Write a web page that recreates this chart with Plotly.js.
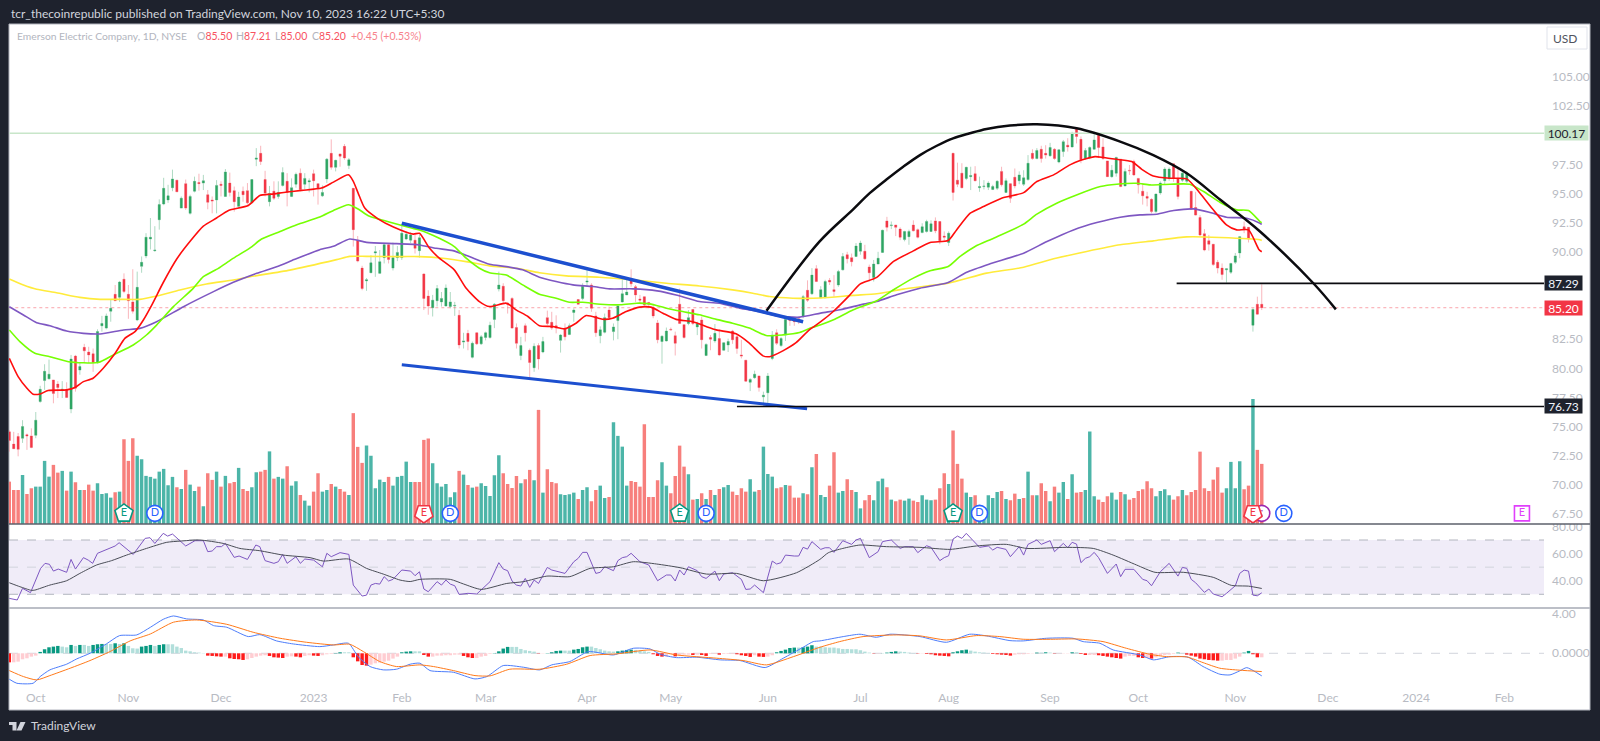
<!DOCTYPE html>
<html>
<head>
<meta charset="utf-8">
<title>Emerson Electric Company, 1D, NYSE</title>
<script src="https://cdn.plot.ly/plotly-3.0.1.min.js"></script>
<style>
  html, body { margin: 0; padding: 0; background: #1e222d; overflow: hidden; }
  #chart { width: 1600px; height: 741px; }
</style>
</head>
<body>
<div id="chart"></div>
<script>
// daily bars, oldest first
var open = [
74.55,73.5,74.15,74.0,74.3,74.2,74.25,77.15,78.95,79.1,
79.0,78.65,78.15,78.15,76.5,81.05,79.85,81.8,81.4,81.25,
80.5,83.65,83.45,84.9,86.35,86.1,87.65,86.35,85.7,84.15,
88.75,89.65,91.1,90.1,92.75,94.1,94.45,95.5,96.15,93.75,
95.85,93.3,95.2,95.95,95.9,94.9,94.45,94.45,95.8,94.75,
95.9,95.25,93.9,95.2,95.25,94.2,97.95,98.45,96.2,94.3,
95.2,94.75,95.7,96.05,94.75,95.8,96.75,95.8,96.0,96.7,
95.85,94.8,96.25,98.45,97.25,98.4,99.05,97.4,95.45,91.0,
88.6,87.5,88.2,89.9,88.15,89.5,90.6,88.6,89.5,89.5,
91.1,91.0,91.0,90.1,88.1,86.2,85.2,85.8,85.7,85.35,
85.3,85.35,84.55,82.25,83.0,80.95,83.05,82.1,82.65,82.65,
84.2,86.8,87.05,85.6,86.0,83.5,81.1,83.65,81.55,80.05,
81.95,81.4,84.35,83.95,83.65,82.4,83.45,82.9,84.8,85.9,
86.0,87.4,87.15,84.5,82.8,83.1,85.0,83.15,84.1,85.7,
86.3,87.7,87.0,85.95,86.15,85.65,85.2,83.9,82.3,82.35,
83.35,82.8,85.5,83.75,83.85,85.05,83.55,84.15,81.1,82.65,
82.35,82.55,81.55,82.0,83.2,82.7,81.15,80.7,78.8,79.2,
79.35,77.55,77.9,80.85,83.05,81.95,82.85,84.25,84.15,84.25,
84.45,86.7,86.4,88.55,86.05,86.05,87.55,86.75,87.15,88.45,
89.75,89.5,89.6,90.05,90.05,88.7,87.8,88.95,89.95,92.65,
92.25,92.3,91.95,91.05,91.3,92.3,91.9,91.65,91.75,91.75,
92.65,92.6,91.35,90.8,98.45,96.15,96.75,96.3,96.45,96.7,
95.5,95.6,95.55,95.35,95.45,96.9,95.1,95.85,96.4,96.1,
95.8,96.2,98.45,98.0,98.8,98.45,98.25,98.8,97.7,98.6,
99.15,99.0,100.6,99.65,98.0,98.1,98.8,100.0,99.0,97.8,
96.45,96.75,97.95,95.65,97.0,97.75,96.3,95.2,94.75,94.5,
93.45,95.05,96.1,96.3,97.55,96.3,96.15,96.05,95.2,93.8,
92.95,91.55,90.95,90.65,89.1,88.6,88.45,88.25,89.1,89.9,
92.15,92.1,83.7,85.5,85.5];
var high = [
74.7,74.55,74.45,75.55,74.4,74.85,76.25,78.5,80.35,80.75,
79.0,78.9,78.9,78.8,81.15,81.15,80.5,82.1,81.85,81.7,
83.35,84.5,84.7,85.9,87.15,87.5,88.15,87.15,88.5,88.3,
89.6,91.6,92.9,92.2,94.5,96.35,95.75,97.05,96.15,94.75,
96.2,94.9,96.45,96.7,96.6,95.3,94.75,96.15,96.05,97.1,
96.8,95.6,95.15,95.6,95.9,96.2,98.9,99.1,96.95,95.65,
96.05,96.05,97.25,96.75,96.3,96.8,97.15,96.75,96.3,97.05,
95.85,95.7,98.05,99.65,97.9,98.4,99.25,98.05,95.45,91.35,
88.8,87.75,89.7,90.5,90.15,90.75,90.75,90.8,90.5,92.4,
91.75,91.7,91.6,91.45,88.15,86.7,86.3,87.15,86.55,87.2,
86.55,85.7,85.0,83.05,83.3,82.3,83.05,82.85,83.15,84.0,
85.6,88.3,87.3,85.7,86.1,83.85,82.7,83.85,81.7,82.15,
82.15,82.7,84.95,84.85,84.55,82.95,83.85,83.85,85.15,85.95,
87.3,88.5,87.3,84.85,83.6,84.7,85.3,83.85,85.5,87.7,
87.7,88.5,87.15,86.3,86.15,85.7,85.45,84.15,82.85,83.5,
83.5,83.15,86.85,83.75,85.0,85.05,84.0,84.45,82.15,82.85,
83.8,83.35,82.2,82.55,83.3,82.85,82.45,80.7,79.15,79.8,
79.35,78.0,79.6,83.2,83.35,82.7,84.3,84.45,84.15,84.25,
86.3,87.55,88.6,88.85,87.05,87.6,87.75,88.0,88.45,89.9,
90.0,89.85,90.75,90.95,90.6,88.9,89.3,90.0,91.9,93.0,
92.6,92.3,92.1,91.8,91.9,92.7,92.0,92.45,92.75,92.7,
92.95,92.6,91.75,91.75,98.5,97.65,97.6,97.3,97.3,97.35,
96.45,96.15,96.05,95.75,96.15,97.3,96.3,95.9,97.15,96.9,
97.0,98.3,98.8,98.9,99.1,99.15,99.35,98.9,98.75,99.6,
99.75,100.3,100.6,99.9,98.9,99.05,100.3,100.15,99.75,97.8,
97.45,98.15,97.95,97.15,97.45,97.9,96.3,95.9,95.15,94.6,
95.0,96.05,97.25,97.25,97.55,97.15,97.0,96.9,95.2,95.15,
93.15,91.95,91.45,90.65,89.3,89.0,88.6,89.05,89.9,91.35,
92.6,92.1,85.15,86.15,87.21];
var low = [
72.85,73.1,72.45,73.6,73.0,73.15,74.0,77.05,78.15,79.05,
77.0,77.45,77.45,77.45,76.15,78.0,79.45,80.45,80.45,79.7,
80.4,83.15,83.35,84.0,85.8,85.7,86.45,84.25,84.7,84.05,
88.2,89.45,90.2,90.0,91.9,94.0,94.2,95.2,95.15,93.75,
93.6,93.2,95.1,95.25,95.3,93.65,93.3,93.3,94.75,94.75,
94.75,93.45,93.75,94.3,94.05,94.2,97.35,97.45,94.75,93.9,
94.45,94.55,95.6,93.9,94.7,95.5,95.2,95.35,95.1,94.75,
94.05,94.7,95.9,97.05,96.9,97.3,97.9,97.1,90.45,89.1,
86.7,86.65,88.2,87.85,88.1,89.0,89.0,88.4,89.2,89.3,
91.0,90.75,89.85,89.5,85.0,84.6,84.45,85.3,85.3,85.3,
85.15,84.5,81.7,81.7,81.55,80.85,82.0,82.0,82.4,82.55,
83.45,86.6,85.55,84.7,83.4,81.7,80.7,82.3,79.0,79.7,
79.9,81.3,83.7,83.3,83.0,81.35,82.4,82.85,84.0,85.5,
85.85,87.0,84.85,82.7,82.15,83.0,84.15,82.4,82.5,85.65,
86.3,87.0,85.7,85.55,85.3,85.15,84.3,82.15,80.4,82.3,
83.25,81.1,83.85,82.55,83.7,83.7,82.85,81.7,81.05,81.55,
82.2,81.05,81.55,81.4,82.1,81.25,80.85,78.85,78.05,79.1,
78.0,77.0,77.0,80.7,82.0,81.85,82.35,83.65,83.65,83.8,
84.3,85.7,86.3,87.4,86.05,86.05,87.15,86.15,87.0,88.4,
89.0,88.75,89.55,89.75,89.3,87.45,87.45,88.95,89.9,91.75,
91.95,91.35,91.0,90.9,90.6,91.75,91.15,91.6,91.65,91.7,
91.6,90.65,90.9,90.5,94.4,95.55,95.45,96.15,95.3,96.05,
95.15,95.35,95.3,95.3,95.3,95.6,95.1,94.2,95.45,95.8,
95.65,96.1,97.9,97.95,97.65,98.0,98.15,97.9,97.6,98.15,
98.6,98.95,99.3,97.6,97.9,97.95,98.8,98.05,97.9,96.45,
96.35,96.45,95.55,95.65,96.6,96.5,95.0,94.05,93.9,93.3,
93.35,94.9,95.75,96.1,96.0,94.5,96.0,95.9,93.6,93.1,
91.35,90.05,90.1,88.8,88.15,87.6,87.35,88.1,88.95,89.45,
91.6,90.8,83.15,84.65,85.0];
var close = [
73.8,73.1,73.05,75.0,74.2,73.2,75.55,78.2,79.75,79.5,
77.85,78.35,78.2,77.5,80.8,78.3,80.15,81.5,81.15,80.5,
83.15,83.85,84.5,85.15,85.8,87.4,86.6,85.8,84.9,86.95,
89.1,91.25,91.25,90.15,94.05,95.45,94.8,96.25,95.15,94.6,
93.75,94.75,96.05,95.85,96.1,94.25,94.35,95.7,95.7,96.85,
95.1,94.3,94.7,94.9,94.2,96.2,98.05,97.75,95.05,95.0,
94.6,95.1,96.8,95.1,95.5,96.65,95.35,96.3,96.1,96.1,
95.45,95.1,97.95,97.25,97.85,98.2,98.05,97.9,91.9,89.2,
86.85,87.6,89.05,90.0,89.15,90.6,89.35,89.5,89.95,91.6,
91.5,91.45,90.3,91.2,86.0,85.35,85.85,86.85,86.0,86.9,
85.7,85.4,82.0,82.35,82.3,82.15,82.1,82.7,83.05,83.7,
85.5,87.15,85.8,85.5,83.45,82.15,81.95,83.05,80.5,81.9,
80.8,82.3,83.85,83.45,83.45,82.85,82.7,83.65,85.0,85.5,
87.05,87.5,85.15,83.05,83.3,84.35,84.35,83.55,85.35,86.4,
86.55,87.25,86.3,85.85,85.45,85.5,84.5,82.45,82.75,83.2,
83.3,82.15,83.85,82.65,84.35,83.85,83.85,82.45,82.05,82.5,
83.0,81.15,82.2,82.3,82.45,81.7,81.05,78.9,79.05,79.5,
78.35,77.7,79.35,82.85,82.15,82.55,84.2,84.1,84.0,84.0,
86.15,85.85,88.0,87.45,86.75,87.45,87.4,86.6,88.3,89.6,
89.4,89.15,90.5,90.75,89.4,88.2,88.95,89.45,91.85,92.1,
92.3,92.1,91.25,91.75,91.75,91.8,91.25,92.15,92.6,92.4,
91.8,90.95,91.25,91.6,95.1,95.8,95.5,97.25,96.55,96.1,
95.6,95.65,95.9,95.6,96.05,95.75,96.1,94.6,95.65,96.6,
96.35,97.6,98.0,98.7,98.0,98.3,98.95,98.0,98.75,99.45,
99.0,100.1,99.9,97.9,98.7,98.95,99.6,98.95,98.0,96.45,
97.0,98.1,95.6,96.9,96.95,96.6,95.75,94.8,94.6,93.45,
94.95,95.9,97.1,97.1,96.3,94.75,96.75,96.75,93.65,93.15,
91.45,90.15,90.65,88.9,88.6,88.05,88.55,89.0,89.65,91.3,
91.95,91.1,85.05,84.65,85.2];

// volume in millions, and g/r for each volume bar
var volume = [
3.39,2.72,2.72,3.92,2.40,2.86,2.99,2.99,5.05,3.79,
4.73,4.11,4.25,2.67,4.19,3.34,2.72,2.72,3.15,2.67,
3.26,2.40,2.46,2.11,2.54,2.59,6.78,5.05,6.86,5.46,
5.18,3.85,3.77,3.63,4.19,4.41,3.10,3.77,2.94,2.80,
4.33,3.15,2.64,2.99,1.42,4.06,3.53,4.19,2.99,3.85,
3.26,3.36,4.49,2.80,2.64,2.94,4.14,4.19,4.33,5.81,
3.63,3.77,3.63,4.62,3.07,3.42,2.32,1.87,1.47,2.59,
4.06,2.59,2.72,3.20,2.99,2.80,2.59,2.32,8.87,6.17,
4.89,6.28,5.46,2.86,3.55,3.36,3.77,3.07,3.77,3.85,
4.99,3.36,3.36,3.36,6.73,6.84,4.86,3.26,2.99,3.20,
2.14,2.54,4.25,3.95,3.12,2.91,2.99,3.26,3.04,2.24,
3.90,5.50,4.06,3.20,2.88,3.84,3.26,3.58,4.33,3.50,
9.13,2.51,4.38,3.36,3.26,2.38,2.32,2.38,2.51,2.00,
2.72,2.94,1.82,2.72,3.07,2.08,2.16,8.14,7.05,6.19,
3.07,3.44,3.36,2.99,7.98,2.16,2.16,3.50,4.94,3.07,
2.46,3.84,6.27,4.59,3.98,1.95,2.00,2.46,2.00,2.72,
2.32,2.80,2.94,3.12,2.59,2.32,2.86,2.59,3.58,2.59,
2.72,6.19,4.00,3.79,2.86,2.94,3.12,3.07,2.11,2.11,
2.46,2.38,4.54,5.60,2.32,2.16,3.07,5.74,2.51,2.64,
3.58,2.72,2.56,1.25,1.90,2.32,1.90,3.42,3.63,2.94,
1.95,1.82,1.95,1.87,2.03,1.87,1.76,2.30,1.95,1.90,
1.95,2.86,4.06,3.20,7.48,4.81,3.63,2.51,2.16,2.30,
1.30,1.10,2.30,2.08,2.56,2.64,2.00,1.90,2.43,2.00,
2.08,4.19,2.30,2.30,3.26,2.64,1.82,2.99,2.51,3.36,
2.00,3.98,2.51,2.56,2.72,7.40,2.22,1.95,1.76,2.22,
2.51,1.95,2.56,2.38,1.95,2.08,2.64,2.78,3.42,2.86,
2.22,2.64,2.78,2.30,1.95,2.22,2.72,2.30,2.56,2.72,
5.79,2.86,2.64,3.55,4.54,2.51,2.86,4.97,2.86,5.02,
2.78,3.07,10.0,5.93,4.81];
var volumeDir = ("rrrgrrgggg" + "rrgrgrgrrr" + "ggggrgrrrg" + "ggggggggrg" + "rggrgrrgrg" +
  "rrgrrggrrg" + "rggrggrggr" + "rggrgrrgrr" + "rgggggrggg" + "ggrrrrgggg" +
  "ggrgrgrggg" + "ggrrrrgrrg" + "rgrrrggggr" + "ggrrggrggg" + "grrrrrrrgg" +
  "rrrrgrgrgr" + "grggrrrrgg" + "rgggrrgrrr" + "grgrggrrgg" + "rrggrrgggr" +
  "grrggrrggg" + "rrrgrrrggr" + "gggggrgrrg" + "rgrgrrgrgg" + "rgrrgggrrr" +
  "ggrgrrrrrr" + "ggggrrgrrr" + "rrrrrrgggg" + "rrgrr").split("");

// moving averages, read at the bends of each line (bar number, price)
var ma20X = [0,2,4,5.4,7,8.8,13,15,16.8,19,21.3,24,26.2,28.5,30.4,32.3,35,38,41,44,47,49.7,54.2,56.8,59.5,62.9,66.3,70.8,73.5,76.9,78,79.1,80.6,83.7,87.1,91.6,93,95.3,97.5,100.9,103.6,106.6,108.9,112.7,115,117.6,120.2,123.2,125.9,128.5,130.8,134.8,136.8,139.9,142.9,145.5,148.2,151.2,155,158,160.3,164.8,167.8,170.9,172.4,175.4,178.4,181.4,184,186.9,190.3,192.9,196.7,200.5,205,208.8,212.9,214.8,217.9,220.9,225,230,233,236.8,240.5,242.8,246.2,248.1,251.1,254.5,256.8,259.4,263.2,267,270,273,276,278.3,281,283.4,284];
var ma20Y = [80.86,79.29,78.29,77.78,77.8,78.1,78.15,78.38,78.86,79.15,80,81.29,82.57,83.15,84.15,85.43,87.43,89.4,90.9,92.2,92.9,93.55,93.98,94.84,94.95,95.13,95.27,95.47,95.98,96.61,96.04,95.04,93.75,92.81,92.13,91.52,91.59,90.3,89.45,88.45,86.87,85.73,85.3,85.59,85.0,84.45,83.65,83.59,83.39,83.87,84.53,84.2,84.3,84.87,85.25,85.25,84.73,84.2,84,83.59,83.3,82.96,82.16,81.07,81.0,81.5,82.2,83.3,84.0,84.9,86.17,87.23,87.8,89.17,90.08,90.8,90.97,91.88,93.31,93.88,94.6,95.08,96.03,96.6,97.46,97.83,98.17,98.1,97.94,97.74,97.08,96.51,96.31,96.26,95.03,93.6,92.31,91.88,91.88,90.17,90.0];
var ma50X = [0,2.4,5.8,9.2,13.4,20.2,23.6,28.1,31.1,33.4,37.2,41.7,44,47.4,50.4,54.6,57.2,61.4,65.2,70.4,73.5,76.9,79.1,81.4,83.7,87.8,91.2,93,97.5,100.9,103.6,106.6,108.9,112.7,116.4,120.2,124,127,130,134,138.6,142.3,145.2,149,152.7,156.5,160.3,164,167.8,171.6,175.4,179.2,182,184,186.9,191.4,196.7,200.5,205,208.8,212.9,215.6,219,223.2,230,233,237.5,242,247.4,251.1,255.7,258.7,263.2,267.7,270.8,274.6,278.3,281,283.6,284];
var ma50Y = [83.29,82.29,81.29,81,80.57,80.5,81.15,82,82.86,83.71,85.29,86.86,87.86,88.58,89.35,90.33,91.1,91.75,92.33,92.98,93.55,94.04,93.67,93.1,92.81,92.38,92.04,91.87,91.16,90.45,89.45,88.59,88.2,88,87.16,86.36,86.02,85.67,85.67,85.5,85.45,85.59,85.53,85.16,84.87,84.59,84.2,83.87,83.45,82.82,82.87,83.07,83.5,83.74,84.17,85.03,85.8,86.74,87.74,88.37,88.74,89.6,90.46,91.17,92.37,93.23,94.17,94.88,95.6,95.8,95.88,95.74,95.8,95.8,95.17,94.23,93.6,93.54,92.6,92.5];
var ma100X = [0,3.2,6.2,9.2,13,16.8,20.6,25.9,29.6,33.4,39.5,46.3,50.8,56.1,60.6,64.6,70.4,73.5,77.2,81,87.8,93,96.8,100.6,104.3,108.9,112.7,116.4,120.2,124,127.8,132.3,136.1,141.4,146.9,151.2,156.5,161,165.6,170.1,173.9,179.2,184,188.4,193.7,196.7,201.2,206.5,212.9,217.1,222.4,230,235.3,241.3,246.6,251.9,256.4,260.2,264,268.5,272.3,276,280.6,283.6,284];
var ma100Y = [85.29,84.58,83.92,83.66,83.2,83,82.95,83.29,83.43,84,85.29,86.58,87.38,88.15,88.72,89.33,90.18,90.47,91.1,90.81,90.7,90.59,90.3,90.1,89.59,88.93,88.73,88.45,87.82,87.45,87.16,87.02,86.82,86.82,86.65,86.3,85.73,85.59,85.16,84.87,84.5,84.39,84.74,85.03,85.51,85.74,86.31,86.88,87.37,88.25,88.97,89.88,90.88,91.88,92.51,92.97,93.17,93.23,93.54,93.68,93.37,92.97,92.88,92.45,92.35];
var ma200X = [0,3.2,6.2,10.7,16,20.6,25.1,29.6,33.4,38.7,44.7,50.8,54.6,63.6,74.2,77.2,81,89,93,98.3,103.6,108.9,115,120.2,126.3,133.8,141.4,149,156.5,164,168.6,172.4,177.7,184,191.4,196.7,202.7,212.9,221.6,230,236.8,244.3,251.9,259.4,267,274.6,283.6,284];
var ma200Y = [87.66,87.15,86.78,86.49,86.09,85.92,85.92,85.92,86.2,86.72,87.23,87.58,87.86,88.43,89.33,89.61,89.61,89.59,89.59,89.45,89.16,88.79,88.59,88.2,87.93,87.82,87.59,87.3,87.07,86.73,86.45,86.16,86.02,86.03,86.26,86.4,86.8,87.31,88.17,88.68,89.4,90.03,90.6,90.94,91.28,91.23,91.03,90.97];

// drawn objects on the price pane
var arcX = [171.7,183.7,191.4,195.1,198.9,202.7,206.5,210.2,214,217.8,221.6,226.9,233,242,251.9,259.4,267,274.6,283.6,295.7,300.8];
var arcY = [84.94,90.87,93.66,95.03,96.2,97.3,98.3,99.08,99.74,100.17,100.54,100.83,100.94,100.6,99.46,98.3,96.74,94.46,91.74,87.3,85.06];
var wedgeTopX = [89,180], wedgeTopY = [92.45,84.0];
var wedgeLowX = [89,180.9], wedgeLowY = [80.3,76.53];
var lastBar = 348;
var resistX = [264.7,lastBar], resistY = [87.29,87.29];
var supportX = [165,lastBar], supportY = [76.73,76.73];
var highLineX = [0,lastBar], highLineY = [100.17,100.17];
var lastLineX = [0,lastBar], lastLineY = [85.2,85.2];

// RSI line and its average
var rsiX = [0,1.8,3,4.8,7.1,8.1,9.1,10,11.1,13,14,15,16.8,17.9,18.9,20,24,24.9,28.1,30.8,31.9,33,34.9,35.9,37,40,42.1,44,45,46,47,48.1,49,51,52.1,54,55.9,56.8,58,60,61,62,63,65,66,67,69,71,72,73,75,77,78,80,81,82,83,84,85,86,87,89,91,92,93,94,95,97,98,99,100,101,102,104,106,109,111,112,113,114,115,116,117,118,119,120,122,123,126,128,129,130,131,133,134,135,137,138,139,140,141,143,145,147,149,150,151,152,153,154,156,157,158,160,161,162,164,166,167,168,169,171,173,174,175,176,178,179,180,181,182,184,185,186,187,189,191,192,193,195,197,198,199,200,202,203,205,206,208,209,211,212,213,214,215,216,217,220,222,223,224,226,227,229,230,231,233,234,236,237,239,240,241,242,243,244,245,246,247,249,251,252,253,255,257,258,259,261,263,265,266,267,268,269,271,272,273,275,276,278,279,280,281,282,283,284];
var rsiY = [27,25.8,34.4,31.2,49.1,52.8,52.1,47.1,48.6,46.2,55.7,48.6,57,55.2,52.8,60.2,65.6,68,59.4,71.2,71.7,67.5,74.9,72.9,74.4,65.6,69.5,69.5,61.4,61.9,65.1,65.1,67.5,57.2,58.2,55.7,66.3,65.1,54.8,52.8,54,59.4,52.8,57.7,52.8,56,55.2,50.3,60.2,57.7,60.7,59.4,36.8,28.7,29.4,36.8,38,37.5,43,39.8,41,47.9,47.1,43.7,46.6,33.9,31.9,39.3,36.8,40.5,37.5,36.3,29.9,30.7,30.2,39.3,53.3,48.6,47.4,39.8,36.8,36.1,41.7,35.1,40.5,38,49.8,47.9,45.4,54,56.5,60.9,60.9,45.4,46.2,50.3,47.4,54.8,57,57.7,60.2,54,51.6,40,44.2,44.2,39.8,47.9,44.2,50.3,47.4,43,41.7,47.1,40,44.9,45.9,41,33.6,33.9,36.8,31.2,54.5,52.3,53.3,58.9,58.2,58.2,64.6,63.3,68.8,63.1,64.3,64.3,60.9,69.5,66.8,70,71.2,57,61.4,68.8,69.5,70,63.8,65.1,65.1,60.7,65.8,64.6,54.8,57,58.4,70.7,72.9,71.2,74.9,64.6,65.6,62.6,64.6,63.1,57.7,65.1,58.9,66.8,70,66.8,69.5,61.4,67.5,64.3,68.3,67,53.3,56.5,57.7,60.9,57,45.4,52.3,43,48.4,48.4,41,40,36.3,46.6,52.8,43.4,49.8,49.1,41,38.5,31.4,33.9,30.2,28.2,30.7,36.3,45.4,47.8,47.1,29.4,28.9,31.1];
var rsiMaX = [0,2.4,5,5.8,9.2,13,16,19.8,23.2,26.6,31.1,35.7,38.7,43.2,48.5,52.3,56.8,62.1,68.2,71.2,76.9,81,84.8,88.6,90.9,93.1,100,103,107,112.8,116.6,121.9,127.1,131.7,137,141.5,146.8,152.1,158.1,164.9,171,178.5,183.8,185.7,189,192.9,198.9,206.5,213.3,219.3,226.1,230.7,239.7,245.8,250.3,255.6,259.8,266.2,273,277.1,281,284];
var rsiMaY = [38.5,35.6,32.9,33.1,36.8,40,45.4,51.6,54.8,58.9,63.8,68.3,69.2,70,67.5,63.8,62.1,58.9,57,54.5,56,49.1,44.9,40.5,39.4,41,41,37.6,33.6,38,39.3,43.4,43,49.1,50.3,54,52.3,49.6,44.9,45.4,40,45.9,55.7,60.6,63.8,66.3,65.1,64.6,63.1,65.6,66.8,63.8,64.6,63.8,58.9,51.6,46.2,46.2,42.5,36.6,36,34.3];

// MACD, signal and histogram
var macdX = [0,1.7,5.4,7,9.2,13,15.3,18.3,22,25,28.9,32,34.9,37.2,40.2,44,46.3,49.3,54.2,56.8,60.6,64.4,70.4,73.5,76.9,79.1,81.8,84.8,87.8,90.9,93.1,95.4,100.7,105.6,108.3,112,116.6,120.3,123,127.1,131.3,137,141.5,145.3,147.6,151.3,155.9,161.2,165.7,171.4,175.5,180,182.3,183.8,189.1,192.9,196.6,199.7,206.5,212.5,217.8,221.6,226.9,229.9,235.2,241.2,243.5,247.3,250.3,256.4,259.4,263.2,267.3,270.7,274.5,276.8,279,280.6,284];
var macdY = [-2.64,-3.05,-3.05,-2.37,-1.69,-1.11,-0.57,0,0.95,1.8,1.87,2.65,3.46,3.8,3.5,3.39,2.82,2.65,1.7,1.9,1.26,0.95,0.68,0.85,1.02,-0.34,-1.35,-1.69,-1.62,-1.11,-1.01,-1.76,-1.93,-2.61,-2.37,-1.25,-1.42,-1.69,-1.18,-0.84,0.17,-0.17,0.51,0.44,-0.1,-0.44,-0.4,-0.67,-0.74,-1.45,-0.5,0.61,1.19,1.26,1.7,1.94,1.63,1.94,1.7,1.12,1.94,1.77,1.29,1.26,1.53,1.53,1.19,1.02,0.34,-0.17,-0.67,-0.34,-0.4,-1.35,-2.13,-2.2,-1.79,-1.46,-2.3];
var signalX = [0,3.2,6.2,9.2,13.8,18.3,22.8,27.4,32,37.2,42.5,49.3,55.3,61.4,67.4,73.5,77.2,80.3,84,87.8,93.1,96.2,100.7,105.6,109,113.5,120.3,126.4,131.7,137.7,145.3,151.3,160.4,166.4,171.7,177.8,183.8,188.3,193.6,201.2,206.5,212.5,219.3,224.6,229.9,236.7,242,248,253.3,258.6,262.4,267,270.7,274.5,279,284];
var signalY = [-1.76,-2.37,-2.71,-2.27,-1.52,-0.74,0.17,1.26,1.97,3.16,3.39,2.95,2.14,1.53,1.12,0.85,0.92,0.17,-0.84,-1.35,-1.18,-1.35,-1.76,-2.27,-2.3,-1.62,-1.62,-1.11,-0.23,-0.06,0.34,-0.17,-0.5,-0.74,-1.18,-0.34,0.61,1.19,1.7,1.87,1.77,1.36,1.8,1.7,1.43,1.43,1.46,1.19,0.51,-0.1,-0.34,-0.37,-0.95,-1.52,-1.72,-1.86];
var hist = [
-.92,-.92,-.85,-.61,-.51,-.34,-.24,.14,.41,.61,
.68,.75,.68,.61,.85,.75,.85,.85,.75,.85,
.92,.95,.95,.95,1.02,.95,1.02,.75,.51,.48,
.68,.75,.85,.75,.85,.92,.92,.92,.68,.54,
.27,.2,.1,.07,.03,-.24,-.27,-.31,-.34,-.34,
-.51,-.58,-.61,-.68,-.61,-.48,-.34,-.24,-.2,-.27,
-.41,-.44,-.48,-.34,-.31,-.34,-.41,-.27,-.2,-.24,
-.27,-.2,-.1,-.07,.03,.1,.1,.1,-.41,-.82,
-1.19,-1.26,-1.16,-1.02,-.95,-.85,-.75,-.54,-.34,.1,
.17,.2,.2,.2,-.17,-.34,-.34,-.24,-.24,-.2,
-.2,-.14,-.14,-.27,-.41,-.48,-.48,-.34,-.27,-.07,
.03,.2,.48,.65,.65,.65,.44,.31,.24,.17,
-.03,-.03,.03,.1,.24,.27,.27,.27,.37,.44,
.61,.68,.68,.54,.41,.27,.2,.17,.2,.27,
.34,.37,.34,.27,.2,.14,-.1,-.27,-.34,-.34,
-.1,-.31,-.2,-.14,-.14,-.17,-.14,-.17,-.27,-.07,
-.07,-.14,-.07,-.07,-.07,-.1,-.2,-.27,-.37,-.2,
-.34,-.37,-.34,-.2,.1,.24,.37,.54,.58,.58,
.61,.68,.82,.68,.68,.61,.58,.58,.51,.44,
.44,.41,.41,.31,.17,.07,-.03,-.03,.01,.07,
.14,.2,.17,.14,.07,.03,-.03,-.03,-.07,-.1,
-.2,-.24,-.27,-.31,.1,.2,.31,.37,.27,.17,
.1,.07,.03,-.07,-.1,-.14,-.17,-.24,-.14,-.1,
-.1,-.07,-.03,.07,.07,.1,.07,-.03,-.03,-.03,
-.03,.1,.1,-.07,-.17,-.17,-.17,-.2,-.27,-.34,
-.41,-.48,-.54,-.34,-.27,-.27,-.41,-.48,-.48,-.54,
-.41,-.27,-.17,-.14,-.07,.07,.03,-.14,-.24,-.34,
-.54,-.61,-.68,-.71,-.75,-.75,-.68,-.68,-.54,-.34,
.07,.24,-.1,-.41,-.41];

// axis labels
var priceTicks = [105,102.5,97.5,95,92.5,90,82.5,80,77.5,75,72.5,70,67.5];
var priceLabels = ["105.00","102.50","97.50","95.00","92.50","90.00","82.50","80.00","77.50","75.00","72.50","70.00","67.50"];
var rsiTicks = [80,60,40], rsiLabels = ["80.00","60.00","40.00"];
var macdTicks = [4,0], macdLabels = ["4.00","0.0000"];
var monthTicks = [6,27,48,69,89,108,131,150,172,193,213,236,256,278,299,319,339];
var monthLabels = ["Oct","Nov","Dec","2023","Feb","Mar","Apr","May","Jun","Jul","Aug","Sep","Oct","Nov","Dec","2024","Feb"];

// earnings and dividend flags along the bottom of the price pane
var flagY = 67.55;
var earnGreenX = [26,152,214], earnRedX = [94,282], earnNextX = [343];
var divX = [33,100,158,220,289], splitX = [284];

var W = 1600, H = 741;
var font = "Lato, 'Liberation Sans', sans-serif";
var axisGrey = "#b8bbc3";
function fx(px) { return px / W; }
function fy(px) { return 1 - px / H; }

var bars = close.map(function (c, i) { return i; });
// body only: high and low pinned to the body so no wick shows
var bodyTop = close.map(function (c, i) { return Math.max(c, open[i]); });
var bodyLow = close.map(function (c, i) { return Math.min(c, open[i]); });

var histColors = hist.map(function (h, i) {
  var prev = i ? hist[i - 1] : 0;
  if (h >= 0) return h > prev ? "#089981" : "#b2dfdb";
  return h < prev ? "#ff1a1a" : "#ffcdd2";
});

function line(x, y, color, width, axis, extra) {
  var lineOpts = { color: color, width: width };
  for (var k in (extra || {})) lineOpts[k] = extra[k];
  return { type: "scatter", mode: "lines", x: x, y: y, line: lineOpts, yaxis: axis, xaxis: "x", hoverinfo: "skip", showlegend: false };
}

function flags(x, symbol, color, label, size, angle) {
  return {
    type: "scatter", mode: "markers+text", x: x, y: x.map(function () { return flagY; }),
    text: x.map(function () { return label; }), textposition: "middle center",
    textfont: { family: font, size: 11, color: color },
    marker: { symbol: symbol, size: size, angle: angle || 0, color: "#ffffff", line: { color: color, width: 1.6 } },
    yaxis: "y2", xaxis: "x", hoverinfo: "skip", showlegend: false, cliponaxis: false
  };
}

var smooth = { shape: "spline", smoothing: 0.6 };

var data = [
  { type: "bar", x: bars, y: volume, width: 0.78, yaxis: "y", xaxis: "x", hoverinfo: "skip", showlegend: false,
    marker: { color: volumeDir.map(function (d) { return d === "g" ? "#4cb5a8" : "#f77f7c"; }), line: { width: 0 } } },
  line(highLineX, highLineY, "#c8e6c9", 1.5, "y2"),
  line(lastLineX, lastLineY, "rgba(242,54,69,0.45)", 1, "y2", { dash: "dot" }),
  line(ma200X, ma200Y, "#ffeb3b", 1.6, "y2", smooth),
  line(ma100X, ma100Y, "#7e57c2", 1.6, "y2", smooth),
  line(ma50X, ma50Y, "#76ff03", 1.6, "y2", smooth),
  line(ma20X, ma20Y, "#ff0d0d", 1.6, "y2", smooth),
  // wicks in a paler tone, bodies drawn on top
  { type: "candlestick", x: bars, open: open, high: high, low: low, close: close, yaxis: "y2", xaxis: "x",
    hoverinfo: "skip", showlegend: false, whiskerwidth: 0,
    increasing: { line: { color: "#9bd0b4", width: 0.8 }, fillcolor: "#9bd0b4" },
    decreasing: { line: { color: "#f8a3ab", width: 0.8 }, fillcolor: "#f8a3ab" } },
  { type: "candlestick", x: bars, open: open, high: bodyTop, low: bodyLow, close: close, yaxis: "y2", xaxis: "x",
    hoverinfo: "skip", showlegend: false, whiskerwidth: 0,
    increasing: { line: { color: "#2ea563", width: 0 }, fillcolor: "#2ea563" },
    decreasing: { line: { color: "#f23645", width: 0 }, fillcolor: "#f23645" } },
  line(wedgeTopX, wedgeTopY, "#1c4fcf", 3.5, "y2"),
  line(wedgeLowX, wedgeLowY, "#1c4fcf", 3, "y2"),
  line(arcX, arcY, "#0b0b0f", 2.5, "y2", { shape: "spline", smoothing: 1 }),
  line(resistX, resistY, "#0b0b0f", 1.6, "y2"),
  line(supportX, supportY, "#0b0b0f", 1.4, "y2"),
  flags(earnGreenX, "pentagon", "#089981", "E", 19),
  flags(splitX, "circle", "#9c27b0", ":", 16),
  flags(earnRedX, "pentagon", "#f23645", "E", 19, 180),
  flags(divX, "circle", "#2962ff", "D", 16),
  flags(earnNextX, "square", "#e040fb", "E", 15),
  line(rsiX, rsiY, "#7e57c2", 1, "y3"),
  line(rsiMaX, rsiMaY, "#4a4d57", 1, "y3", smooth),
  { type: "bar", x: bars, y: hist, width: 0.78, yaxis: "y4", xaxis: "x", hoverinfo: "skip", showlegend: false,
    marker: { color: histColors, line: { width: 0 } } },
  line(macdX, macdY, "#4d7dfb", 1, "y4", smooth),
  line(signalX, signalY, "#ff7a1a", 1, "y4", smooth)
];

var priceLevels = [
  { y: 100.17, text: "100.17", bg: "#c8e6c9", fg: "#1e222d", w: 43 },
  { y: 87.29, text: "87.29", bg: "#1e222d", fg: "#f0f3fa", w: 37 },
  { y: 85.2, text: "85.20", bg: "#f23645", fg: "#ffffff", w: 37 },
  { y: 76.73, text: "76.73", bg: "#1e222d", fg: "#f0f3fa", w: 37 }
];

var annotations = priceLevels.map(function (p) {
  return { xref: "paper", yref: "y2", x: fx(1544), y: p.y, xanchor: "left", yanchor: "middle", showarrow: false,
    text: p.text, width: p.w, height: 14, align: "center", bgcolor: p.bg, borderpad: 0,
    font: { family: font, size: 12, color: p.fg } };
});

function pageText(text, x, y, size, color, anchor) {
  return { xref: "paper", yref: "paper", x: fx(x), y: fy(y), xanchor: anchor || "left", yanchor: "middle",
    showarrow: false, text: text, font: { family: font, size: size, color: color }, align: "left" };
}

var ohlcRed = "#f7525f", ohlcGrey = "#b2b5be";
function span(color, text) { return '<span style="color:' + color + '">' + text + "</span>"; }

annotations.push(pageText("tcr_thecoinrepublic published on TradingView.com, Nov 10, 2023 16:22 UTC+5:30", 9, 13, 12, "#d1d4dc"));
annotations.push(pageText("Emerson Electric Company, 1D, NYSE", 14.5, 36, 10.3, ohlcGrey));
annotations.push(pageText(span(ohlcGrey, "O") + span(ohlcRed, "85.50"), 195, 36, 10.5, ohlcGrey));
annotations.push(pageText(span(ohlcGrey, "H") + span(ohlcRed, "87.21"), 233.5, 36, 10.5, ohlcGrey));
annotations.push(pageText(span(ohlcGrey, "L") + span(ohlcRed, "85.00"), 272.5, 36, 10.5, ohlcGrey));
annotations.push(pageText(span(ohlcGrey, "C") + span(ohlcRed, "85.20"), 310, 36, 10.5, ohlcGrey));
annotations.push(pageText("+0.45 (+0.53%)", 348.5, 36, 10.5, "#f7828c"));
annotations.push(pageText("USD", 1564.5, 38.5, 12, "#50535e", "center"));
annotations.push(pageText("TradingView", 29, 725.5, 12, "#d1d4dc"));

function rectPath(x0, y0, x1, y1) {
  return "M" + fx(x0) + "," + fy(y0) + " L" + fx(x1) + "," + fy(y0) + " L" + fx(x1) + "," + fy(y1) + " L" + fx(x0) + "," + fy(y1) + " Z";
}

var shapes = [
  { type: "rect", xref: "paper", yref: "paper", x0: fx(9), x1: fx(1590), y0: fy(24), y1: fy(710), layer: "below",
    fillcolor: "#ffffff", line: { color: "#b2b5be", width: 1 } },
  { type: "rect", xref: "paper", yref: "y3", x0: fx(9), x1: fx(1544), y0: 30, y1: 70, layer: "below",
    fillcolor: "#f0ecf8", line: { width: 0 } },
  { type: "line", xref: "paper", yref: "y3", x0: fx(9), x1: fx(1544), y0: 70, y1: 70, line: { color: "#b2b5be", width: 1, dash: "dash" }, layer: "below" },
  { type: "line", xref: "paper", yref: "y3", x0: fx(9), x1: fx(1544), y0: 50, y1: 50, line: { color: "#d1d4dc", width: 1, dash: "dash" }, layer: "below" },
  { type: "line", xref: "paper", yref: "y3", x0: fx(9), x1: fx(1544), y0: 30, y1: 30, line: { color: "#b2b5be", width: 1, dash: "dash" }, layer: "below" },
  { type: "line", xref: "paper", yref: "y4", x0: fx(9), x1: fx(1544), y0: 0, y1: 0, line: { color: "#d1d4dc", width: 1, dash: "dash" }, layer: "below" },
  // the pane edge cuts the top of the 80.00 label
  { type: "rect", xref: "paper", yref: "paper", x0: fx(1546), x1: fx(1589), y0: fy(520.5), y1: fy(524), fillcolor: "#ffffff", line: { width: 0 } },
  { type: "line", xref: "paper", yref: "paper", x0: fx(9), x1: fx(1590), y0: fy(524), y1: fy(524), line: { color: "#5d606b", width: 1.5 } },
  { type: "line", xref: "paper", yref: "paper", x0: fx(9), x1: fx(1590), y0: fy(608), y1: fy(608), line: { color: "#bcbfc7", width: 2 } },
  { type: "rect", xref: "paper", yref: "paper", x0: fx(1547), x1: fx(1587), y0: fy(27), y1: fy(49),
    fillcolor: "rgba(0,0,0,0)", line: { color: "#e0e3eb", width: 1 } },
  // TradingView logo
  { type: "path", xref: "paper", yref: "paper", path: rectPath(9, 722, 16.5, 725) + " " + rectPath(12.5, 725, 16.5, 730.5),
    fillcolor: "#d1d4dc", line: { width: 0 } },
  { type: "path", xref: "paper", yref: "paper",
    path: "M" + fx(20.5) + "," + fy(722) + " L" + fx(25.5) + "," + fy(722) + " L" + fx(21.5) + "," + fy(730.5) + " L" + fx(16.5) + "," + fy(730.5) + " Z",
    fillcolor: "#d1d4dc", line: { width: 0 } }
];

function paneAxis(domain, range, ticks, labels, extra) {
  var axis = {
    domain: domain, range: range, side: "right", anchor: "x", fixedrange: true, showgrid: false, zeroline: false, showline: false,
    tickmode: "array", tickvals: ticks, ticktext: labels, ticks: "", ticklabelstandoff: 7,
    tickfont: { family: font, size: 12, color: axisGrey }
  };
  for (var k in (extra || {})) axis[k] = extra[k];
  return axis;
}

var mainDomain = [fy(524), fy(24)];

var layout = {
  width: W, height: H,
  margin: { l: 0, r: 0, t: 0, b: 0 },
  paper_bgcolor: "#1e222d", plot_bgcolor: "rgba(0,0,0,0)",
  showlegend: false, barmode: "overlay", dragmode: false,
  font: { family: font },
  xaxis: {
    domain: [fx(9), fx(1544)], range: [-0.07, lastBar], anchor: "y4", fixedrange: true,
    showgrid: false, zeroline: false, showline: false, ticks: "",
    tickmode: "array", tickvals: monthTicks, ticktext: monthLabels, ticklabelstandoff: 3,
    tickfont: { family: font, size: 12, color: axisGrey },
    rangeslider: { visible: false }
  },
  // volume sits on the base axis so that candles draw over it
  yaxis: { domain: mainDomain, range: [0, 40], fixedrange: true, visible: false, anchor: "x" },
  yaxis2: paneAxis(mainDomain, [66.64, 109.55], priceTicks, priceLabels, { overlaying: "y" }),
  yaxis3: paneAxis([fy(608), fy(524)], [19.9, 81.8], rsiTicks, rsiLabels),
  yaxis4: paneAxis([fy(686), fy(608)], [-3.33, 4.61], macdTicks, macdLabels),
  annotations: annotations,
  shapes: shapes
};

Plotly.newPlot("chart", data, layout, { displayModeBar: false, staticPlot: true });
</script>
</body>
</html>
